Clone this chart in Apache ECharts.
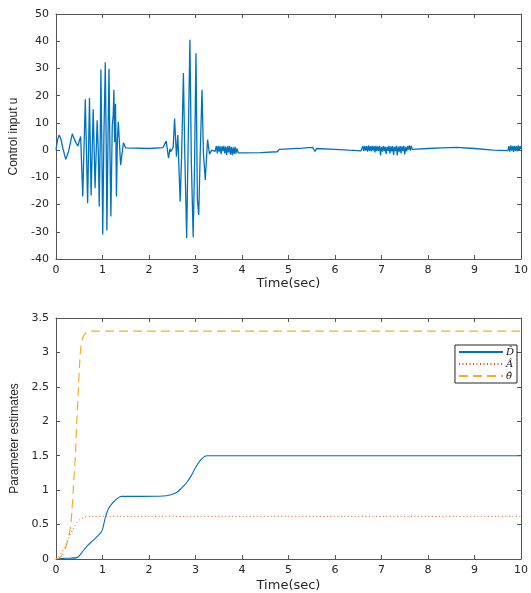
<!DOCTYPE html>
<html>
<head>
<meta charset="utf-8">
<script src="https://cdn.jsdelivr.net/npm/echarts@6/dist/echarts.min.js"></script>
<style>html,body{margin:0;padding:0;background:#fff}#c{width:531px;height:593px}</style>
</head>
<body>
<div id="c"></div>
<script>
// ---- Top plot: control input u ----
const uT = [0,0.03,0.065,0.1,0.15,0.21,0.27,0.35,0.42,0.47,0.53,0.575,0.63,0.68,0.72,0.755,0.80,0.84,0.885,0.91,0.93,0.95,0.965,0.985,1.005,1.03,1.06,1.08,1.095,1.12,1.14,1.16,1.18,1.21,1.23,1.245,1.26,1.28,1.30,1.32,1.34,1.39,1.45,1.5,1.54,
  2.0,2.3,2.37,2.42,2.45,2.47,2.52,2.55,2.59,2.62,2.67,2.70,2.74,2.77,2.81,2.84,2.88,2.91,2.95,2.98,3.01,3.04,3.07,3.10,3.14,3.17,3.21,3.26,3.30,3.35,3.42,
  3.45,3.47,3.49,3.51,3.53,3.55,3.57,3.59,3.61,3.63,3.65,3.67,3.69,3.71,3.73,3.75,3.77,3.79,3.81,3.83,3.85,3.87,3.89,3.92,
  4.0,4.4,4.76,4.8,5.0,5.3,5.52,5.55,5.57,5.6,6.0,6.3,6.56,
  6.6,6.62,6.64,6.66,6.68,6.70,6.72,6.74,6.76,6.78,6.80,6.82,6.84,6.86,6.88,6.90,6.92,6.94,6.96,6.98,7.00,7.02,7.04,7.06,7.08,7.10,7.12,7.14,7.16,7.18,7.20,7.22,7.24,7.26,7.28,7.30,7.32,7.34,7.36,7.38,7.40,7.42,7.44,7.46,7.48,7.50,7.52,7.54,7.56,7.58,7.60,7.62,7.64,7.66,
  8.0,8.3,8.61,9.0,9.4,9.72,
  9.74,9.76,9.78,9.80,9.82,9.84,9.86,9.88,9.90,9.92,9.94,9.96,9.98,10.0];
const uV = [0,3.5,5.5,4.5,0.5,-3.4,-0.5,6,3,1.5,5,-17,18.7,-19.5,19.1,-16.7,15,-14,11,-1,-20.7,2,29.6,3,-31,5,32.3,1,-29.5,7,29.9,0,-24.4,9,13,22.2,3,17,-17,4,10.4,-5.5,2.7,0.8,0.4,
  0.6,0.9,3.3,-3,0.5,-0.6,1,11.6,-2.4,5.5,-18.9,-3,28.3,-2,-32.3,0,40.5,-4,-32,-5,35.6,-18,-23.8,-2,22.2,-1,-11,3.9,-1.5,0,-0.5,
  1.5,-1.2,1.6,-0.6,1.4,-1.5,1.5,-0.4,1.6,-1.2,1.3,-1.8,1.4,-0.8,1.5,-1.6,1.2,-1.9,1.0,-1.5,1.2,-1.3,0.6,-1.0,
  -1.0,-0.9,-0.6,0.25,0.45,0.75,1.0,1.6,-0.5,0.6,0.3,0.0,-0.25,
  1.5,-0.4,1.6,-0.2,1.5,-0.6,1.7,-0.3,1.5,-0.5,1.6,-0.2,1.5,-0.8,1.6,-0.4,1.4,-0.3,1.6,-2.0,1.2,-0.6,1.5,-0.4,1.3,-1.5,1.2,-0.3,1.6,-1.2,1.4,-0.5,1.5,-1.8,1.2,-0.4,1.6,-2.0,1.3,-0.6,1.5,-1.2,1.4,-0.3,1.6,-1.6,1.2,-0.5,1.4,0.2,1.7,-0.2,1.6,0.25,
  0.6,0.85,0.97,0.6,0.0,-0.2,
  1.5,-0.6,1.7,-0.2,1.5,-0.7,1.6,-0.3,1.5,-0.5,1.7,-0.2,1.5,0.3];

// ---- Bottom plot: parameter estimates ----
const dT = [0,0.2,0.45,0.55,0.67,0.8,0.92,0.97,1.0,1.06,1.12,1.2,1.3,1.41,1.8,2.3,2.45,2.6,2.7,2.8,2.9,3.0,3.1,3.2,3.25,10];
const dV = [0,0.01,0.02,0.09,0.19,0.27,0.35,0.39,0.43,0.6,0.72,0.8,0.87,0.91,0.91,0.915,0.93,0.97,1.03,1.1,1.2,1.33,1.43,1.49,1.5,1.5];
const aT = [0,0.1,0.24,0.38,0.45,0.53,0.63,0.75,10];
const aV = [0,0.07,0.26,0.45,0.53,0.58,0.61,0.62,0.62];
const thT = [0,0.1,0.2,0.28,0.32,0.38,0.42,0.45,0.48,0.51,0.54,0.57,0.62,0.67,0.75,10];
const thV = [0,0.03,0.15,0.35,0.5,1.11,1.55,2.05,2.45,2.86,3.1,3.2,3.27,3.29,3.31,3.31];

const xTicks = [0,1,2,3,4,5,6,7,8,9,10];
const seriesNames = ['D\u0302','A\u0302','\u03B8\u0302'];
const xName = 'Time(sec)';
const yNameTop = 'Control input u';
const yNameBottom = 'Parameter estimates';

const zip = (a,b) => a.map((t,i)=>[t,b[i]]);
const axisCol = '#555';
const labelFont = {color:'#262626', fontSize:11, fontFamily:'DejaVu Sans'};
const nameFont = {color:'#262626', fontSize:12, fontFamily:"'Liberation Sans Narrow','Liberation Sans',Arial"};

function xAxes(gi){
  return [
    {type:'value', gridIndex:gi, min:0, max:10, interval:1, position:'bottom',
     axisLine:{onZero:false, lineStyle:{color:axisCol}}, axisTick:{inside:true,length:4,lineStyle:{color:axisCol}},
     axisLabel:Object.assign({margin:6, formatter:v=>xTicks.includes(v)?String(v):''}, labelFont), splitLine:{show:false},
     name:xName, nameLocation:'middle', nameGap:gi===0?18:20,
     nameTextStyle:{color:'#262626', fontSize:13, fontFamily:'DejaVu Sans'}},
    {type:'value', gridIndex:gi, min:0, max:10, interval:1, position:'top',
     axisLine:{onZero:false, lineStyle:{color:axisCol}}, axisTick:{inside:true,length:4,lineStyle:{color:axisCol}},
     axisLabel:{show:false}, splitLine:{show:false}}
  ];
}
function yAxes(gi, min, max, interval, name, gap, fmt){
  return [
    {type:'value', gridIndex:gi, min, max, interval, position:'left',
     axisLine:{onZero:false, lineStyle:{color:axisCol}}, axisTick:{inside:true,length:4,lineStyle:{color:axisCol}},
     axisLabel:Object.assign({margin:7, formatter:fmt}, labelFont), splitLine:{show:false},
     name, nameLocation:'middle', nameGap:gap, nameTextStyle:nameFont},
    {type:'value', gridIndex:gi, min, max, interval, position:'right',
     axisLine:{onZero:false, lineStyle:{color:axisCol}}, axisTick:{inside:true,length:4,lineStyle:{color:axisCol}},
     axisLabel:{show:false}, splitLine:{show:false}}
  ];
}

const chart = echarts.init(document.getElementById('c'), null, {renderer:'canvas'});
chart.setOption({
  animation:false,
  backgroundColor:'#fff',
  grid:[
    {left:56, right:6, top:14, height:245},
    {left:56, right:6, top:318, height:247}
  ],
  xAxis:[...xAxes(0), ...xAxes(1)],
  yAxis:[...yAxes(0,-40,50,10,yNameTop,34,v=>String(v)), ...yAxes(1,0,3.5,0.5,yNameBottom,34,v=>String(v))],
  legend:{
    orient:'vertical', right:14, top:345, itemWidth:44, itemHeight:8, itemGap:2,
    padding:[2,3,2,3], borderColor:'#262626', borderWidth:1, backgroundColor:'#fff',
    data:seriesNames,
    itemStyle:{opacity:0},
    textStyle:{fontFamily:'DejaVu Serif', fontStyle:'italic', fontSize:10, color:'#111', padding:[0,0,0,-2]}
  },
  series:[
    {type:'line', xAxisIndex:0, yAxisIndex:0, data:zip(uT,uV), showSymbol:false, symbol:'none',
     lineStyle:{color:'#0072BD', width:1.3}, itemStyle:{color:'#0072BD'}},
    {name:seriesNames[0], type:'line', xAxisIndex:2, yAxisIndex:2, data:zip(dT,dV), symbol:'none', showSymbol:false, smooth:0.3,
     lineStyle:{color:'#0072BD', width:1.1}, itemStyle:{color:'#0072BD'}},
    {name:seriesNames[1], type:'line', xAxisIndex:2, yAxisIndex:2, data:zip(aT,aV), symbol:'none', showSymbol:false, smooth:0.3,
     lineStyle:{color:'#D95319', width:1, type:[1,2.5]}, itemStyle:{color:'#D95319'}},
    {name:seriesNames[2], type:'line', xAxisIndex:2, yAxisIndex:2, data:zip(thT,thV), symbol:'none', showSymbol:false, smooth:0.3,
     lineStyle:{color:'#EDB120', width:1.2, type:[9,5]}, itemStyle:{color:'#EDB120'}}
  ]
});
</script>
</body>
</html>
